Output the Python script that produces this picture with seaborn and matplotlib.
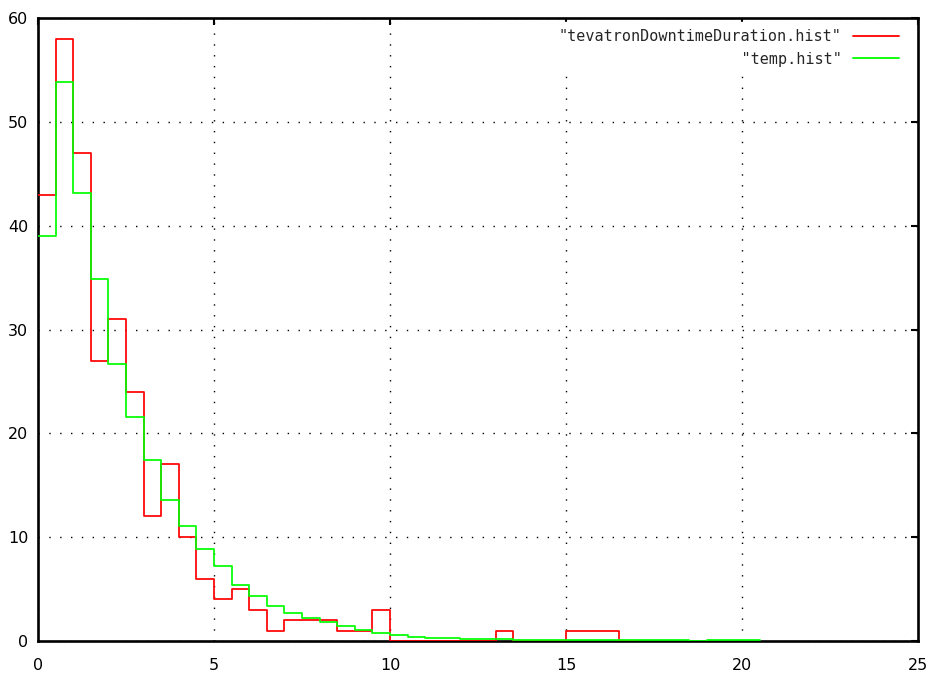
import numpy as np
import pandas as pd
import matplotlib
matplotlib.use("Agg")
import matplotlib.pyplot as plt
import seaborn as sns
from matplotlib.lines import Line2D

# ---- data ----
bin_width = 0.5
red_label = '"tevatronDowntimeDuration.hist"'
green_label = '"temp.hist"'
red_counts = [43, 58, 47, 27, 31, 24, 12, 17, 10, 6,
              4, 5, 3, 1, 2, 2, 2, 1, 1, 3,
              0, 0, 0, 0, 0, 0, 1, 0, 0, 0,
              1, 1, 1, 0]
green_counts = [39, 53.8, 43.1, 34.9, 26.7, 21.6, 17.4, 13.6, 11.1, 8.9,
                7.25, 5.35, 4.3, 3.4, 2.7, 2.25, 1.85, 1.45, 1.05, 0.75,
                0.58, 0.42, 0.32, 0.32, 0.18, 0.18, 0.18, 0.08, 0.08, 0.08,
                0.08, 0.08, 0.08, 0.08, 0.08, 0.08, 0.08, 0.0, 0.08, 0.08,
                0.08]
x_ticks = [0, 5, 10, 15, 20, 25]
y_ticks = [0, 10, 20, 30, 40, 50, 60]

red_edges = [i * bin_width for i in range(len(red_counts) + 1)]
green_edges = [i * bin_width for i in range(len(green_counts) + 1)]
red_df = pd.DataFrame({"x": [e + bin_width / 2 for e in red_edges[:-1]], "w": red_counts})
green_df = pd.DataFrame({"x": [e + bin_width / 2 for e in green_edges[:-1]], "w": green_counts})

sns.set_style("white")
plt.rcParams["font.family"] = ["Liberation Sans Narrow", "DejaVu Sans"]

W, H = 935, 677
fig = plt.figure(figsize=(W / 100, H / 100), dpi=100)
ax = fig.add_axes([38 / W, 1 - 641 / H, (918 - 38) / W, (641 - 18) / H])

RED = "#ff0000"
GREEN = "#00ff00"

sns.histplot(data=red_df, x="x", weights="w", bins=red_edges, element="step",
             fill=False, color=RED, linewidth=1.25, ax=ax, zorder=3)
sns.histplot(data=green_df, x="x", weights="w", bins=green_edges, element="step",
             fill=False, color=GREEN, linewidth=1.25, ax=ax, zorder=3)

ax.set_xlim(0, 25)
ax.set_ylim(0, 60)
ax.set_xticks(x_ticks)
ax.set_yticks(y_ticks)
ax.set_xlabel("")
ax.set_ylabel("")

ax.grid(True, color="black", linestyle=(0, (1, 6.8)), linewidth=1.0)
ax.set_axisbelow(True)

for s in ax.spines.values():
    s.set_visible(True)
    s.set_color("black")
    s.set_linewidth(1.9)

ax.tick_params(axis="both", direction="in", length=5, width=1.5,
               top=True, right=True, labelsize=11.5, colors="black")
ax.tick_params(axis="x", pad=12.5)
ax.tick_params(axis="y", pad=7)

n = max(len(red_label), len(green_label))
handles = [Line2D([], [], color=RED, lw=1.3), Line2D([], [], color=GREEN, lw=1.3)]
labels = [red_label.rjust(n), green_label.rjust(n)]
leg = ax.legend(handles, labels, loc="upper right", bbox_to_anchor=(0.987, 0.994),
                borderaxespad=0, markerfirst=False, frameon=True, fancybox=False,
                facecolor="white", edgecolor="white", framealpha=1,
                prop={"family": "DejaVu Sans Mono", "size": 10.9},
                handlelength=3.05, handletextpad=0.75, labelspacing=0.48,
                borderpad=0.5)
leg.set_zorder(4)

fig.savefig("out.png", dpi=100)
